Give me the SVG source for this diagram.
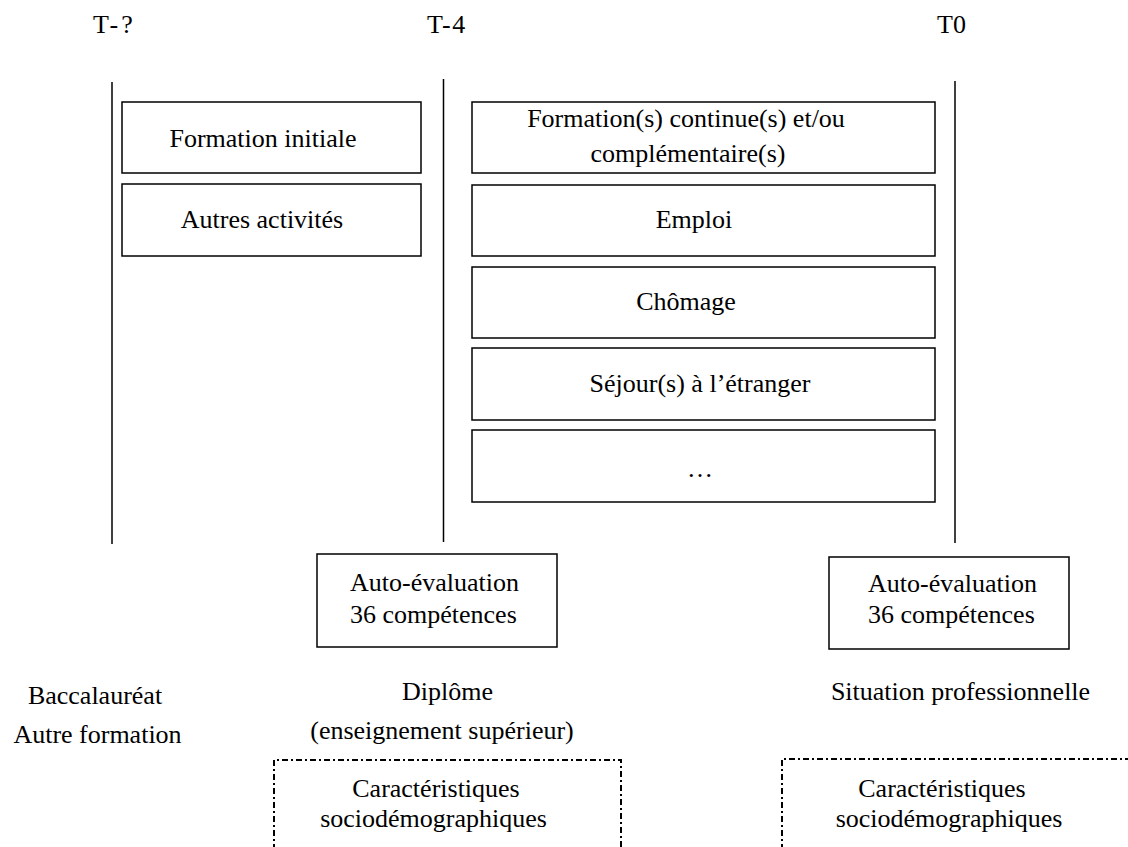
<svg xmlns="http://www.w3.org/2000/svg" width="1128" height="847" viewBox="0 0 1128 847">
<style>
  .t { font-family: 'Liberation Serif', 'Times New Roman', 'DejaVu Serif', serif; font-size: 26px; fill: #000; }
  .c { text-anchor: middle; }
  .box { fill: #fff; stroke: #000; stroke-width: 1.5; }
  .dash { fill: none; stroke: #000; stroke-width: 2; stroke-dasharray: 6 3 2 3; }
  .tl { stroke: #000; stroke-width: 1.5; fill: none; }
</style>
<rect x="0" y="0" width="1128" height="847" fill="#fff"/>

<g class="t" font-family="Liberation Serif, Times New Roman, serif">

<g id="time-labels">
  <text x="93" y="33" letter-spacing="3">T-?</text>
  <text x="427" y="33" letter-spacing="1.5">T-4</text>
  <text x="937" y="33">T0</text>
</g>

<g id="connectors">
  <line class="tl" x1="112" y1="82" x2="112" y2="544"/>
  <line class="tl" x1="443.5" y1="79" x2="443.5" y2="542"/>
  <line class="tl" x1="955" y1="81" x2="955" y2="543"/>
</g>

<g id="formation-initiale">
  <rect class="box" x="122" y="102" width="299" height="71"/>
  <text class="c" x="263" y="147">Formation initiale</text>
</g>
<g id="autres-activites">
  <rect class="box" x="122" y="184" width="299" height="72"/>
  <text class="c" x="262" y="228">Autres activités</text>
</g>

<g id="formation-continue">
  <rect class="box" x="472" y="102" width="463" height="71"/>
  <text class="c" x="686" y="127">Formation(s) continue(s) et/ou</text>
  <text class="c" x="688" y="162">complémentaire(s)</text>
</g>
<g id="emploi">
  <rect class="box" x="472" y="185" width="463" height="71"/>
  <text class="c" x="694" y="228">Emploi</text>
</g>
<g id="chomage">
  <rect class="box" x="472" y="267" width="463" height="71"/>
  <text class="c" x="686" y="310">Chômage</text>
</g>
<g id="sejour">
  <rect class="box" x="472" y="348" width="463" height="72"/>
  <text class="c" x="700" y="392">Séjour(s) à l’étranger</text>
</g>
<g id="etc">
  <rect class="box" x="472" y="430" width="463" height="72"/>
  <text class="c" x="700" y="477">…</text>
</g>

<g id="auto-eval-t4">
  <rect class="box" x="317" y="554" width="240" height="93"/>
  <text x="350" y="591">Auto-évaluation</text>
  <text x="350" y="623">36 compétences</text>
</g>
<g id="auto-eval-t0">
  <rect class="box" x="829" y="557" width="240" height="92"/>
  <text x="868" y="592">Auto-évaluation</text>
  <text x="868" y="623">36 compétences</text>
</g>

<g id="baccalaureat">
  <text class="c" x="95" y="704">Baccalauréat</text>
  <text class="c" x="97.5" y="743">Autre formation</text>
</g>
<g id="diplome">
  <text class="c" x="447.5" y="700">Diplôme</text>
  <text class="c" x="442" y="739">(enseignement supérieur)</text>
</g>
<g id="situation">
  <text class="c" x="960.5" y="700">Situation professionnelle</text>
</g>

<g id="socio-t4">
  <path class="dash" d="M274 850 L274 760 L621 760 L621 850"/>
  <text class="c" x="436" y="797">Caractéristiques</text>
  <text class="c" x="433.5" y="827">sociodémographiques</text>
</g>
<g id="socio-t0">
  <path class="dash" d="M782 850 L782 759 L1130 759"/>
  <text class="c" x="942" y="797">Caractéristiques</text>
  <text class="c" x="949" y="827">sociodémographiques</text>
</g>

</g>
</svg>
